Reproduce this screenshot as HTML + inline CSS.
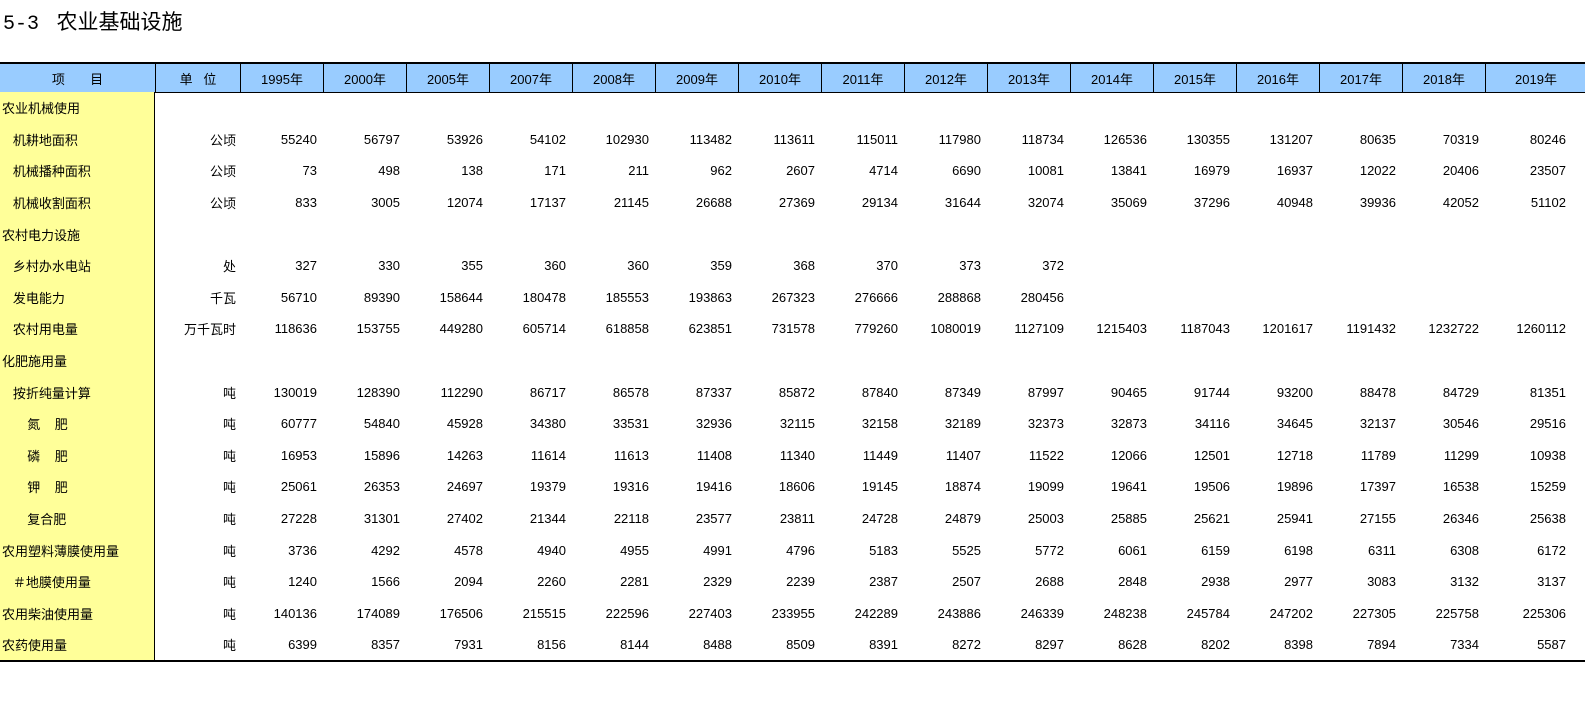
<!DOCTYPE html>
<html><head><meta charset="utf-8"><style>
body{margin:0;background:#fff;width:1585px;height:702px;overflow:hidden;font-family:"Liberation Sans","Noto Sans CJK SC",sans-serif;position:relative;}
.t{position:absolute;left:3px;top:6px;font-size:21px;color:#000;white-space:nowrap;}
.t .n{font-family:"Liberation Mono",monospace;font-size:20px;}
.g{position:absolute;left:0;top:92px;display:grid;grid-template-columns:155px 85px repeat(15,83px) 101px;grid-auto-rows:31.6px;font-size:13px;}
.g div{display:flex;align-items:center;justify-content:flex-end;padding-right:6px;white-space:nowrap;}
.g div.i{justify-content:flex-start;padding-left:2px;padding-right:0;background:#ffff99;}
.g div.u{padding-right:4px;}
.g div.l{padding-right:20px;}
.hd{position:absolute;left:0;top:64px;height:28px;display:grid;grid-template-columns:155px 85px repeat(15,83px) 101px;font-size:13px;background:#99ccff;}
.hd div{display:flex;align-items:center;justify-content:center;border-left:1px solid #000;}
.hd div:first-child{border-left:none;}
</style></head><body>
<div class="t"><span class="n">5-3</span>&nbsp;&nbsp;&nbsp;农业基础设施</div>
<div style="position:absolute;left:0;top:62px;width:1585px;height:2px;background:#000"></div>
<div class="hd"><div>项&nbsp;&nbsp;&nbsp;&nbsp;&nbsp;&nbsp;&nbsp;目</div><div>单&nbsp;&nbsp;&nbsp;位</div><div>1995年</div><div>2000年</div><div>2005年</div><div>2007年</div><div>2008年</div><div>2009年</div><div>2010年</div><div>2011年</div><div>2012年</div><div>2013年</div><div>2014年</div><div>2015年</div><div>2016年</div><div>2017年</div><div>2018年</div><div>2019年</div></div>
<div style="position:absolute;left:0;top:92px;width:1585px;height:1px;background:#000"></div>
<div class="g">
<div class="i">农业机械使用</div><div></div><div></div><div></div><div></div><div></div><div></div><div></div><div></div><div></div><div></div><div></div><div></div><div></div><div></div><div></div><div></div><div></div>
<div class="i">&nbsp;&nbsp;&nbsp;机耕地面积</div><div class="u">公顷</div><div>55240</div><div>56797</div><div>53926</div><div>54102</div><div>102930</div><div>113482</div><div>113611</div><div>115011</div><div>117980</div><div>118734</div><div>126536</div><div>130355</div><div>131207</div><div>80635</div><div>70319</div><div class="l">80246</div>
<div class="i">&nbsp;&nbsp;&nbsp;机械播种面积</div><div class="u">公顷</div><div>73</div><div>498</div><div>138</div><div>171</div><div>211</div><div>962</div><div>2607</div><div>4714</div><div>6690</div><div>10081</div><div>13841</div><div>16979</div><div>16937</div><div>12022</div><div>20406</div><div class="l">23507</div>
<div class="i">&nbsp;&nbsp;&nbsp;机械收割面积</div><div class="u">公顷</div><div>833</div><div>3005</div><div>12074</div><div>17137</div><div>21145</div><div>26688</div><div>27369</div><div>29134</div><div>31644</div><div>32074</div><div>35069</div><div>37296</div><div>40948</div><div>39936</div><div>42052</div><div class="l">51102</div>
<div class="i">农村电力设施</div><div></div><div></div><div></div><div></div><div></div><div></div><div></div><div></div><div></div><div></div><div></div><div></div><div></div><div></div><div></div><div></div><div></div>
<div class="i">&nbsp;&nbsp;&nbsp;乡村办水电站</div><div class="u">处</div><div>327</div><div>330</div><div>355</div><div>360</div><div>360</div><div>359</div><div>368</div><div>370</div><div>373</div><div>372</div><div></div><div></div><div></div><div></div><div></div><div></div>
<div class="i">&nbsp;&nbsp;&nbsp;发电能力</div><div class="u">千瓦</div><div>56710</div><div>89390</div><div>158644</div><div>180478</div><div>185553</div><div>193863</div><div>267323</div><div>276666</div><div>288868</div><div>280456</div><div></div><div></div><div></div><div></div><div></div><div></div>
<div class="i">&nbsp;&nbsp;&nbsp;农村用电量</div><div class="u">万千瓦时</div><div>118636</div><div>153755</div><div>449280</div><div>605714</div><div>618858</div><div>623851</div><div>731578</div><div>779260</div><div>1080019</div><div>1127109</div><div>1215403</div><div>1187043</div><div>1201617</div><div>1191432</div><div>1232722</div><div class="l">1260112</div>
<div class="i">化肥施用量</div><div></div><div></div><div></div><div></div><div></div><div></div><div></div><div></div><div></div><div></div><div></div><div></div><div></div><div></div><div></div><div></div><div></div>
<div class="i">&nbsp;&nbsp;&nbsp;按折纯量计算</div><div class="u">吨</div><div>130019</div><div>128390</div><div>112290</div><div>86717</div><div>86578</div><div>87337</div><div>85872</div><div>87840</div><div>87349</div><div>87997</div><div>90465</div><div>91744</div><div>93200</div><div>88478</div><div>84729</div><div class="l">81351</div>
<div class="i">&nbsp;&nbsp;&nbsp;&nbsp;&nbsp;&nbsp;&nbsp;氮&nbsp;&nbsp;&nbsp;&nbsp;肥</div><div class="u">吨</div><div>60777</div><div>54840</div><div>45928</div><div>34380</div><div>33531</div><div>32936</div><div>32115</div><div>32158</div><div>32189</div><div>32373</div><div>32873</div><div>34116</div><div>34645</div><div>32137</div><div>30546</div><div class="l">29516</div>
<div class="i">&nbsp;&nbsp;&nbsp;&nbsp;&nbsp;&nbsp;&nbsp;磷&nbsp;&nbsp;&nbsp;&nbsp;肥</div><div class="u">吨</div><div>16953</div><div>15896</div><div>14263</div><div>11614</div><div>11613</div><div>11408</div><div>11340</div><div>11449</div><div>11407</div><div>11522</div><div>12066</div><div>12501</div><div>12718</div><div>11789</div><div>11299</div><div class="l">10938</div>
<div class="i">&nbsp;&nbsp;&nbsp;&nbsp;&nbsp;&nbsp;&nbsp;钾&nbsp;&nbsp;&nbsp;&nbsp;肥</div><div class="u">吨</div><div>25061</div><div>26353</div><div>24697</div><div>19379</div><div>19316</div><div>19416</div><div>18606</div><div>19145</div><div>18874</div><div>19099</div><div>19641</div><div>19506</div><div>19896</div><div>17397</div><div>16538</div><div class="l">15259</div>
<div class="i">&nbsp;&nbsp;&nbsp;&nbsp;&nbsp;&nbsp;&nbsp;复合肥</div><div class="u">吨</div><div>27228</div><div>31301</div><div>27402</div><div>21344</div><div>22118</div><div>23577</div><div>23811</div><div>24728</div><div>24879</div><div>25003</div><div>25885</div><div>25621</div><div>25941</div><div>27155</div><div>26346</div><div class="l">25638</div>
<div class="i">农用塑料薄膜使用量</div><div class="u">吨</div><div>3736</div><div>4292</div><div>4578</div><div>4940</div><div>4955</div><div>4991</div><div>4796</div><div>5183</div><div>5525</div><div>5772</div><div>6061</div><div>6159</div><div>6198</div><div>6311</div><div>6308</div><div class="l">6172</div>
<div class="i">&nbsp;&nbsp;&nbsp;＃地膜使用量</div><div class="u">吨</div><div>1240</div><div>1566</div><div>2094</div><div>2260</div><div>2281</div><div>2329</div><div>2239</div><div>2387</div><div>2507</div><div>2688</div><div>2848</div><div>2938</div><div>2977</div><div>3083</div><div>3132</div><div class="l">3137</div>
<div class="i">农用柴油使用量</div><div class="u">吨</div><div>140136</div><div>174089</div><div>176506</div><div>215515</div><div>222596</div><div>227403</div><div>233955</div><div>242289</div><div>243886</div><div>246339</div><div>248238</div><div>245784</div><div>247202</div><div>227305</div><div>225758</div><div class="l">225306</div>
<div class="i">农药使用量</div><div class="u">吨</div><div>6399</div><div>8357</div><div>7931</div><div>8156</div><div>8144</div><div>8488</div><div>8509</div><div>8391</div><div>8272</div><div>8297</div><div>8628</div><div>8202</div><div>8398</div><div>7894</div><div>7334</div><div class="l">5587</div>
</div>
<div style="position:absolute;left:154px;top:92px;width:1px;height:569px;background:#000"></div>
<div style="position:absolute;left:0;top:660px;width:1585px;height:2px;background:#000"></div>
</body></html>
